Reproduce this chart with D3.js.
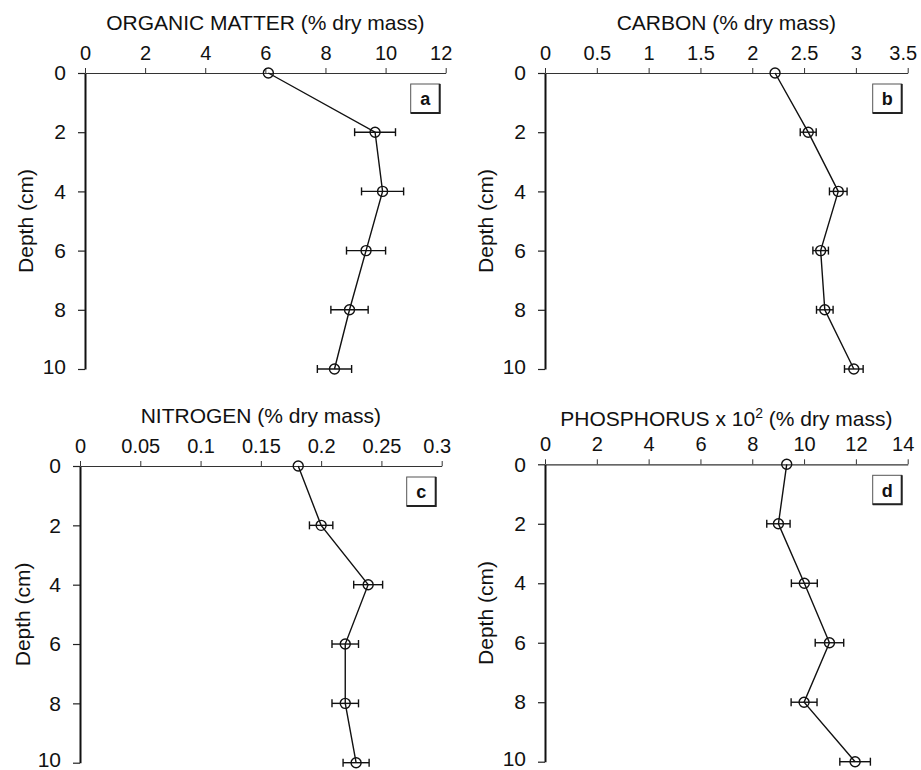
<!DOCTYPE html>
<html>
<head>
<meta charset="utf-8">
<script src="https://cdn.jsdelivr.net/npm/d3@7"></script>
<style>
  body { margin: 0; background: #fff; }
  text { font-family: "Liberation Sans", Arial, sans-serif; fill: #111; }
</style>
</head>
<body>
<div id="chart"></div>
<script>
// depth below surface (cm), same for every profile
var depths = [0, 2, 4, 6, 8, 10];

// values, mean and +/- error
var organicMean = [6.1, 9.65, 9.9, 9.35, 8.8, 8.3];
var organicErr = [0, 0.68, 0.7, 0.65, 0.62, 0.57];
var carbonMean = [2.22, 2.54, 2.83, 2.66, 2.70, 2.98];
var carbonErr = [0, 0.077, 0.085, 0.075, 0.08, 0.09];
var nitrogenMean = [0.181, 0.200, 0.239, 0.220, 0.220, 0.229];
var nitrogenErr = [0, 0.0097, 0.012, 0.011, 0.011, 0.0108];
var phosphorusMean = [9.33, 9.01, 10.01, 10.98, 10.0, 11.97];
var phosphorusErr = [0, 0.45, 0.5, 0.55, 0.5, 0.59];

var organicTicks = [0, 2, 4, 6, 8, 10, 12];
var carbonTicks = [0, 0.5, 1, 1.5, 2, 2.5, 3, 3.5];
var nitrogenTicks = [0, 0.05, 0.1, 0.15, 0.2, 0.25, 0.3];
var phosphorusTicks = [0, 2, 4, 6, 8, 10, 12, 14];
var depthTicks = [0, 2, 4, 6, 8, 10];

var svg = d3.select("#chart").append("svg")
  .attr("width", 921).attr("height", 770);

// layout of the four panels (pixel boxes of the plot areas)
var panels = [
  {title: "ORGANIC MATTER (% dry mass)", mean: organicMean, err: organicErr, ticks: organicTicks, letter: "a",
   x0: 85, x1: 445.7, y0: 73, y1: 369, titleY: 30, ylabX: 26},
  {title: "CARBON (% dry mass)", mean: carbonMean, err: carbonErr, ticks: carbonTicks, letter: "b",
   x0: 545, x1: 907.7, y0: 73, y1: 369, titleY: 30, ylabX: 486},
  {title: "NITROGEN (% dry mass)", mean: nitrogenMean, err: nitrogenErr, ticks: nitrogenTicks, letter: "c",
   x0: 80, x1: 441.7, y0: 466, y1: 762.7, titleY: 423, ylabX: 23},
  {title: "PHOSPHORUS x 10", sup: "2", rest: " (% dry mass)", mean: phosphorusMean, err: phosphorusErr,
   ticks: phosphorusTicks, letter: "d", x0: 545, x1: 907.7, y0: 464.3, y1: 761.7, titleY: 426, ylabX: 486}
];

panels.forEach(function(p) {
  var xScale = d3.scaleLinear()
    .domain([0, p.ticks[p.ticks.length - 1]])
    .range([p.x0, p.x1]);
  var yScale = d3.scaleLinear()
    .domain([0, 10])
    .range([p.y0, p.y1]);

  var g = svg.append("g");

  // top x axis
  var xa = g.append("g")
    .attr("transform", "translate(0," + p.y0 + ")")
    .call(d3.axisTop(xScale).tickValues(p.ticks).tickSize(5).tickPadding(8).tickSizeOuter(0)
      .tickFormat(function(d) { return String(d); }));
  xa.select(".domain").attr("stroke", "#333").attr("stroke-width", 1.2);
  xa.selectAll(".tick line").attr("stroke", "#333");
  xa.selectAll("text").style("font-size", "20px").attr("fill", "#111");
  // last label sits a little left of its tick, as in the original
  xa.selectAll(".tick").filter(function(d, i, n) { return i === n.length - 1; })
    .select("text").attr("dx", -5);

  // left y axis
  var ya = g.append("g")
    .attr("transform", "translate(" + p.x0 + ",0)")
    .call(d3.axisLeft(yScale).tickValues(depthTicks).tickSize(7).tickPadding(12).tickSizeOuter(0));
  ya.select(".domain").attr("stroke", "#111").attr("stroke-width", 2);
  ya.selectAll(".tick line").attr("stroke", "#222").attr("stroke-width", 1.2);
  ya.selectAll("text").style("font-size", "21px").attr("fill", "#111");
  // keep the bottom label inside the page
  ya.selectAll(".tick").filter(function(d) { return d === 10; })
    .select("text").attr("dy", "0.2em");

  // axis titles
  var t = g.append("text")
    .attr("x", (p.x0 + p.x1) / 2)
    .attr("y", p.titleY)
    .attr("text-anchor", "middle")
    .style("font-size", "21px")
    .text(p.title);
  if (p.sup) {
    t.append("tspan").attr("dy", -8).style("font-size", "14px").text(p.sup);
    t.append("tspan").attr("dy", 8).text(p.rest);
  }

  g.append("text")
    .attr("transform", "translate(" + p.ylabX + "," + (p.y0 + p.y1) / 2 + ") rotate(-90)")
    .attr("text-anchor", "middle")
    .attr("dy", "0.35em")
    .style("font-size", "21px")
    .text("Depth (cm)");

  // panel letter box
  var bx = p.x1 - 35, by = p.y0 + 11;
  g.append("rect")
    .attr("x", bx).attr("y", by).attr("width", 29).attr("height", 29)
    .attr("fill", "none").attr("stroke", "#555").attr("stroke-width", 1);
  g.append("path")
    .attr("d", "M" + (bx + 29) + "," + by + "V" + (by + 29) + "H" + bx)
    .attr("fill", "none").attr("stroke", "#222").attr("stroke-width", 2);
  g.append("text")
    .attr("x", bx + 14.5).attr("y", by + 15)
    .attr("text-anchor", "middle").attr("dy", "0.35em")
    .style("font-size", "18px").style("font-weight", "bold")
    .text(p.letter);

  var data = depths.map(function(d, i) { return {depth: d, v: p.mean[i], e: p.err[i]}; });

  // profile line
  var line = d3.line().x(function(d) { return xScale(d.v); }).y(function(d) { return yScale(d.depth); });
  g.append("path").datum(data)
    .attr("d", line)
    .attr("fill", "none").attr("stroke", "#111").attr("stroke-width", 1.4);

  // error bars
  var eb = g.selectAll(".err").data(data.filter(function(d) { return d.e > 0; }))
    .enter().append("g");
  eb.append("line")
    .attr("x1", function(d) { return xScale(d.v - d.e); })
    .attr("x2", function(d) { return xScale(d.v + d.e); })
    .attr("y1", function(d) { return yScale(d.depth); })
    .attr("y2", function(d) { return yScale(d.depth); })
    .attr("stroke", "#111").attr("stroke-width", 1.4);
  [-1, 1].forEach(function(s) {
    eb.append("line")
      .attr("x1", function(d) { return xScale(d.v + s * d.e); })
      .attr("x2", function(d) { return xScale(d.v + s * d.e); })
      .attr("y1", function(d) { return yScale(d.depth) - 4; })
      .attr("y2", function(d) { return yScale(d.depth) + 4; })
      .attr("stroke", "#111").attr("stroke-width", 1.4);
  });

  // open circles
  g.selectAll(".pt").data(data).enter().append("circle")
    .attr("cx", function(d) { return xScale(d.v); })
    .attr("cy", function(d) { return yScale(d.depth); })
    .attr("r", 5)
    .attr("fill", "none").attr("stroke", "#111").attr("stroke-width", 1.4);
});
</script>
</body>
</html>
